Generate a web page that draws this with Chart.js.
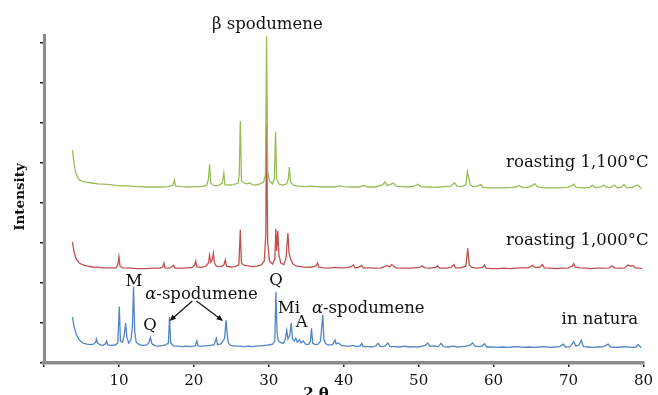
<!DOCTYPE html>
<html>
<head>
<meta charset="utf-8">
<script src="https://cdn.jsdelivr.net/npm/chart.js@4/dist/chart.umd.min.js"></script>
<style>
  html, body { margin: 0; padding: 0; background: #fff; }
  #wrap { width: 658px; height: 395px; }
</style>
</head>
<body>
<div id="wrap"><canvas id="xrdChart" width="658" height="395"></canvas></div>
<script>
// [2 theta, intensity], traces stacked by offset
const inNatura = [
  [3.8, 1.15], [4.0, 0.92], [4.3, 0.72], [4.7, 0.58], [5.2, 0.5], [5.7, 0.47], [6.2, 0.46], [6.6, 0.47], [6.9, 0.52], [7.0, 0.6],
  [7.15, 0.5], [7.5, 0.45], [7.9, 0.44], [8.2, 0.48], [8.35, 0.55], [8.5, 0.45], [9.0, 0.44], [9.5, 0.45], [9.85, 0.5], [10.05, 1.41],
  [10.2, 0.55], [10.5, 0.52], [10.75, 0.75], [10.9, 1.0], [11.05, 0.65], [11.3, 0.5], [11.6, 0.58], [11.8, 0.9], [11.95, 1.91], [12.1, 0.8],
  [12.3, 0.52], [12.7, 0.46], [13.2, 0.44], [13.7, 0.45], [14.0, 0.5], [14.2, 0.64], [14.4, 0.48], [14.9, 0.43], [15.4, 0.42], [15.9, 0.44],
  [16.3, 0.46], [16.6, 0.5], [16.75, 1.15], [16.9, 0.5], [17.3, 0.43], [17.8, 0.42], [18.4, 0.41], [19.0, 0.42], [19.6, 0.41], [20.2, 0.43],
  [20.4, 0.55], [20.55, 0.43], [21.0, 0.42], [21.6, 0.43], [22.2, 0.44], [22.7, 0.46], [23.0, 0.62], [23.15, 0.46], [23.6, 0.48], [23.9, 0.55],
  [24.1, 0.62], [24.3, 1.07], [24.45, 0.72], [24.6, 0.5], [24.9, 0.44], [25.5, 0.42], [26.1, 0.42], [26.7, 0.41], [27.3, 0.42], [27.9, 0.41],
  [28.5, 0.43], [29.0, 0.43], [29.5, 0.44], [30.0, 0.45], [30.5, 0.47], [30.8, 0.55], [30.95, 1.78], [31.1, 0.75], [31.3, 0.55], [31.7, 0.5],
  [32.0, 0.5], [32.2, 0.6], [32.4, 0.82], [32.55, 0.6], [32.8, 0.7], [33.0, 1.0], [33.15, 0.6], [33.4, 0.55], [33.6, 0.62], [33.8, 0.52],
  [34.1, 0.58], [34.3, 0.5], [34.6, 0.55], [34.9, 0.47], [35.3, 0.46], [35.55, 0.55], [35.7, 0.87], [35.85, 0.5], [36.2, 0.46], [36.6, 0.47],
  [36.9, 0.55], [37.2, 1.2], [37.35, 0.6], [37.6, 0.48], [38.0, 0.45], [38.5, 0.46], [38.85, 0.57], [39.0, 0.48], [39.3, 0.5], [39.7, 0.44],
  [40.2, 0.42], [40.8, 0.42], [41.3, 0.44], [41.7, 0.41], [42.2, 0.43], [42.4, 0.49], [42.6, 0.41], [43.2, 0.41], [43.8, 0.4], [44.3, 0.43],
  [44.6, 0.49], [44.9, 0.41], [45.5, 0.42], [45.9, 0.5], [46.2, 0.41], [46.9, 0.41], [47.5, 0.4], [48.1, 0.42], [48.7, 0.4], [49.3, 0.41],
  [49.9, 0.4], [50.5, 0.42], [50.9, 0.44], [51.2, 0.5], [51.5, 0.42], [52.1, 0.43], [52.6, 0.41], [53.0, 0.49], [53.3, 0.41], [54.0, 0.4],
  [54.6, 0.42], [55.2, 0.4], [55.8, 0.41], [56.3, 0.42], [56.8, 0.44], [57.2, 0.5], [57.5, 0.42], [58.1, 0.41], [58.5, 0.43], [58.8, 0.48],
  [59.1, 0.4], [59.8, 0.4], [60.5, 0.39], [61.2, 0.4], [61.9, 0.39], [62.6, 0.4], [63.3, 0.41], [64.0, 0.39], [64.7, 0.4], [65.4, 0.39],
  [66.1, 0.4], [66.8, 0.41], [67.5, 0.39], [68.2, 0.4], [68.8, 0.41], [69.3, 0.47], [69.6, 0.4], [70.2, 0.41], [70.7, 0.53], [71.0, 0.42],
  [71.4, 0.45], [71.7, 0.57], [72.0, 0.41], [72.6, 0.4], [73.3, 0.39], [74.0, 0.4], [74.7, 0.41], [75.3, 0.47], [75.6, 0.4], [76.3, 0.39],
  [77.0, 0.4], [77.7, 0.41], [78.4, 0.39], [79.0, 0.4], [79.3, 0.46], [79.7, 0.38]
];

const roast1000 = [
  [3.8, 3.03], [4.0, 2.78], [4.3, 2.6], [4.7, 2.5], [5.2, 2.45], [5.8, 2.42], [6.5, 2.4], [7.3, 2.39], [8.0, 2.38], [8.8, 2.38],
  [9.6, 2.38], [9.85, 2.45], [10.0, 2.66], [10.15, 2.42], [10.5, 2.38], [11.5, 2.37], [12.5, 2.36], [13.5, 2.36], [14.5, 2.37], [15.5, 2.37],
  [15.85, 2.4], [16.0, 2.5], [16.15, 2.38], [16.8, 2.37], [17.3, 2.44], [17.45, 2.37], [18.2, 2.37], [19.0, 2.38], [19.8, 2.39], [20.1, 2.45],
  [20.25, 2.55], [20.4, 2.4], [21.0, 2.39], [21.6, 2.42], [21.95, 2.5], [22.1, 2.7], [22.25, 2.52], [22.45, 2.58], [22.6, 2.75], [22.75, 2.5],
  [23.0, 2.42], [23.6, 2.41], [24.0, 2.45], [24.2, 2.58], [24.35, 2.42], [24.9, 2.4], [25.5, 2.41], [26.0, 2.45], [26.2, 3.33], [26.35, 2.5],
  [26.6, 2.45], [27.2, 2.43], [27.8, 2.41], [28.4, 2.42], [29.0, 2.45], [29.4, 2.55], [29.6, 3.2], [29.7, 5.95], [29.85, 3.0], [30.1, 2.55],
  [30.5, 2.47], [30.8, 2.6], [30.95, 3.35], [31.05, 2.8], [31.2, 3.3], [31.35, 2.7], [31.6, 2.5], [32.0, 2.46], [32.3, 2.62], [32.55, 3.25],
  [32.7, 2.75], [32.9, 2.6], [33.2, 2.48], [33.7, 2.42], [34.3, 2.41], [35.0, 2.39], [35.8, 2.4], [36.3, 2.43], [36.5, 2.5], [36.65, 2.4],
  [37.3, 2.38], [38.0, 2.37], [38.8, 2.39], [39.5, 2.38], [40.2, 2.38], [40.9, 2.4], [41.3, 2.45], [41.5, 2.38], [42.0, 2.39], [42.4, 2.44],
  [42.6, 2.38], [43.4, 2.38], [44.2, 2.37], [45.0, 2.38], [45.6, 2.42], [45.8, 2.44], [46.1, 2.4], [46.4, 2.46], [46.6, 2.43], [47.0, 2.38],
  [47.8, 2.37], [48.6, 2.37], [49.4, 2.38], [50.1, 2.39], [50.5, 2.43], [50.8, 2.38], [51.6, 2.37], [52.3, 2.39], [52.5, 2.43], [52.8, 2.37],
  [53.6, 2.37], [54.3, 2.39], [54.7, 2.46], [54.9, 2.38], [55.6, 2.38], [56.3, 2.42], [56.55, 2.87], [56.75, 2.45], [57.1, 2.39], [57.8, 2.37],
  [58.5, 2.39], [58.8, 2.45], [59.0, 2.37], [59.8, 2.36], [60.6, 2.36], [61.4, 2.37], [62.2, 2.36], [63.0, 2.37], [63.8, 2.38], [64.6, 2.38],
  [65.2, 2.44], [65.5, 2.39], [66.2, 2.4], [66.5, 2.46], [66.8, 2.38], [67.6, 2.37], [68.4, 2.36], [69.2, 2.37], [70.0, 2.38], [70.5, 2.42],
  [70.7, 2.49], [70.9, 2.4], [71.5, 2.38], [72.3, 2.37], [73.0, 2.36], [73.8, 2.37], [74.6, 2.37], [75.4, 2.38], [75.8, 2.43], [76.1, 2.38],
  [76.8, 2.37], [77.5, 2.38], [77.9, 2.45], [78.3, 2.42], [78.6, 2.44], [78.9, 2.38], [79.4, 2.37], [79.8, 2.36]
];

const roast1100 = [
  [3.8, 5.33], [4.0, 5.0], [4.25, 4.75], [4.6, 4.6], [5.1, 4.54], [5.7, 4.52], [6.4, 4.5], [7.2, 4.48], [8.0, 4.47], [8.8, 4.46],
  [9.6, 4.44], [10.5, 4.43], [11.5, 4.42], [12.5, 4.41], [13.5, 4.4], [14.5, 4.4], [15.5, 4.4], [16.5, 4.41], [17.2, 4.44], [17.4, 4.57],
  [17.55, 4.43], [18.3, 4.41], [19.2, 4.4], [20.1, 4.41], [21.0, 4.41], [21.7, 4.44], [21.95, 4.6], [22.1, 4.97], [22.25, 4.5], [22.6, 4.44],
  [23.2, 4.43], [23.8, 4.5], [24.0, 4.75], [24.15, 4.46], [24.7, 4.45], [25.3, 4.46], [25.9, 4.5], [26.05, 4.7], [26.2, 6.05], [26.35, 4.55],
  [26.7, 4.5], [27.0, 4.48], [27.4, 4.5], [27.8, 4.46], [28.3, 4.45], [28.8, 4.48], [29.3, 4.52], [29.55, 4.7], [29.7, 8.17], [29.85, 4.8],
  [30.1, 4.55], [30.5, 4.48], [30.75, 4.6], [30.9, 5.78], [31.05, 4.6], [31.4, 4.47], [31.9, 4.45], [32.4, 4.48], [32.6, 4.6], [32.75, 4.9],
  [32.9, 4.52], [33.3, 4.44], [34.0, 4.42], [34.8, 4.41], [35.6, 4.42], [36.4, 4.41], [37.2, 4.4], [38.0, 4.41], [38.8, 4.4], [39.4, 4.43],
  [40.0, 4.41], [41.0, 4.4], [42.0, 4.4], [42.8, 4.44], [43.2, 4.4], [44.2, 4.4], [45.2, 4.45], [45.5, 4.53], [45.8, 4.44], [46.2, 4.46],
  [46.6, 4.5], [47.0, 4.42], [47.8, 4.41], [48.6, 4.4], [49.4, 4.42], [49.9, 4.47], [50.3, 4.41], [51.2, 4.4], [52.0, 4.39], [52.8, 4.4],
  [53.5, 4.41], [54.3, 4.42], [54.8, 4.5], [55.1, 4.42], [55.8, 4.41], [56.3, 4.46], [56.5, 4.78], [56.7, 4.62], [56.9, 4.45], [57.3, 4.41],
  [57.8, 4.42], [58.3, 4.46], [58.6, 4.39], [59.5, 4.38], [60.5, 4.38], [61.5, 4.38], [62.4, 4.39], [63.0, 4.4], [63.4, 4.44], [63.8, 4.39],
  [64.6, 4.39], [65.2, 4.44], [65.5, 4.48], [65.9, 4.4], [66.8, 4.38], [67.8, 4.38], [68.8, 4.38], [69.8, 4.39], [70.4, 4.43], [70.7, 4.47],
  [71.0, 4.39], [72.0, 4.38], [72.8, 4.39], [73.2, 4.44], [73.6, 4.38], [74.3, 4.4], [74.7, 4.45], [75.1, 4.39], [75.7, 4.39], [76.1, 4.45],
  [76.5, 4.38], [77.0, 4.39], [77.4, 4.46], [77.8, 4.38], [78.5, 4.39], [79.2, 4.45], [79.6, 4.38], [79.8, 4.37]
];

const xTicks = [0, 10, 20, 30, 40, 50, 60, 70, 80];

// annotation labels: [text, 2theta, intensity, align]
const peakLabels = [
  ["β spodumene", 29.8, 8.35, "center"],
  ["roasting 1,100°C", 80.7, 4.91, "right"],
  ["roasting 1,000°C", 80.7, 2.95, "right"],
  ["in natura", 79.3, 0.98, "right"],
  ["M", 12.0, 1.93, "center"],
  ["Q", 14.15, 0.83, "center"],
  ["Q", 30.95, 1.95, "center"],
  ["Mi", 31.2, 1.25, "left"],
  ["A", 34.4, 0.9, "center"]
];
const alphaLabels = [[13.5, 1.6], [35.75, 1.25]];
const arrows = [[19.8, 1.55, 16.75, 1.05], [20.35, 1.55, 23.9, 1.05]];

const serif = "'DejaVu Serif', 'Liberation Serif', serif";

function toPoints(pairs) {
  return pairs.map(p => ({ x: p[0], y: p[1] }));
}

const annotate = {
  id: "annotate",
  afterDraw(chart) {
    const ctx = chart.ctx;
    const xs = chart.scales.x, ys = chart.scales.y;
    ctx.save();
    ctx.fillStyle = "#111";
    ctx.strokeStyle = "#111";
    ctx.textBaseline = "alphabetic";
    ctx.font = "16.5px " + serif;
    peakLabels.forEach(([t, x, y, a]) => {
      ctx.textAlign = a;
      ctx.fillText(t, xs.getPixelForValue(x), ys.getPixelForValue(y));
    });
    ctx.textAlign = "left";
    alphaLabels.forEach(([x, y]) => {
      const px = xs.getPixelForValue(x), py = ys.getPixelForValue(y);
      ctx.font = "italic 16.5px " + serif;
      ctx.fillText("α", px, py);
      const w = ctx.measureText("α").width;
      ctx.font = "16.5px " + serif;
      ctx.fillText("-spodumene", px + w, py);
    });
    ctx.lineWidth = 1.2;
    arrows.forEach(([x1, y1, x2, y2]) => {
      const ax = xs.getPixelForValue(x1), ay = ys.getPixelForValue(y1);
      const bx = xs.getPixelForValue(x2), by = ys.getPixelForValue(y2);
      const ang = Math.atan2(by - ay, bx - ax);
      ctx.beginPath();
      ctx.moveTo(ax, ay);
      ctx.lineTo(bx - 5 * Math.cos(ang), by - 5 * Math.sin(ang));
      ctx.stroke();
      ctx.beginPath();
      ctx.moveTo(bx, by);
      ctx.lineTo(bx - 7 * Math.cos(ang - 0.4), by - 7 * Math.sin(ang - 0.4));
      ctx.lineTo(bx - 7 * Math.cos(ang + 0.4), by - 7 * Math.sin(ang + 0.4));
      ctx.closePath();
      ctx.fill();
    });
    // axis titles
    ctx.font = "bold 15px " + serif;
    ctx.textAlign = "center";
    ctx.fillText("2 θ", 316, 398);
    ctx.translate(20, 197);
    ctx.rotate(-Math.PI / 2);
    ctx.textBaseline = "middle";
    ctx.font = "bold 13.5px " + serif;
    ctx.fillText("Intensity", 0, 0);
    ctx.restore();
  }
};

new Chart(document.getElementById("xrdChart"), {
  type: "line",
  data: {
    datasets: [
      { label: "roasting 1,100°C", data: toPoints(roast1100), borderColor: "#9bbb59" },
      { label: "roasting 1,000°C", data: toPoints(roast1000), borderColor: "#c0504d" },
      { label: "in natura", data: toPoints(inNatura), borderColor: "#5285c6" }
    ]
  },
  options: {
    responsive: false,
    animation: false,
    devicePixelRatio: 1,
    layout: { padding: { left: 0, right: 12, top: 35, bottom: 0 } },
    elements: {
      line: { borderWidth: 1.3, tension: 0, fill: false },
      point: { radius: 0 }
    },
    plugins: {
      legend: { display: false },
      tooltip: { enabled: false }
    },
    scales: {
      x: {
        type: "linear",
        min: 0,
        max: 80,
        afterFit: s => { s.height = 32; },
        afterBuildTicks: s => { s.ticks = xTicks.map(v => ({ value: v })); },
        border: { color: "#8c8c8c", width: 3.5 },
        grid: { drawOnChartArea: false, tickLength: 4, color: "#222", lineWidth: 1.5 },
        ticks: {
          padding: 5,
          maxRotation: 0,
          autoSkip: false,
          color: "#111",
          font: { family: serif, size: 15 },
          callback: v => (v === 0 ? "" : v)
        }
      },
      y: {
        type: "linear",
        min: 0,
        max: 8.2,
        afterFit: s => { s.width = 44; },
        border: { color: "#8c8c8c", width: 3 },
        grid: { drawOnChartArea: false, tickLength: 4, color: "#222", lineWidth: 1.5 },
        ticks: { display: false, stepSize: 1, includeBounds: false }
      }
    }
  },
  plugins: [annotate]
});
</script>
</body>
</html>
